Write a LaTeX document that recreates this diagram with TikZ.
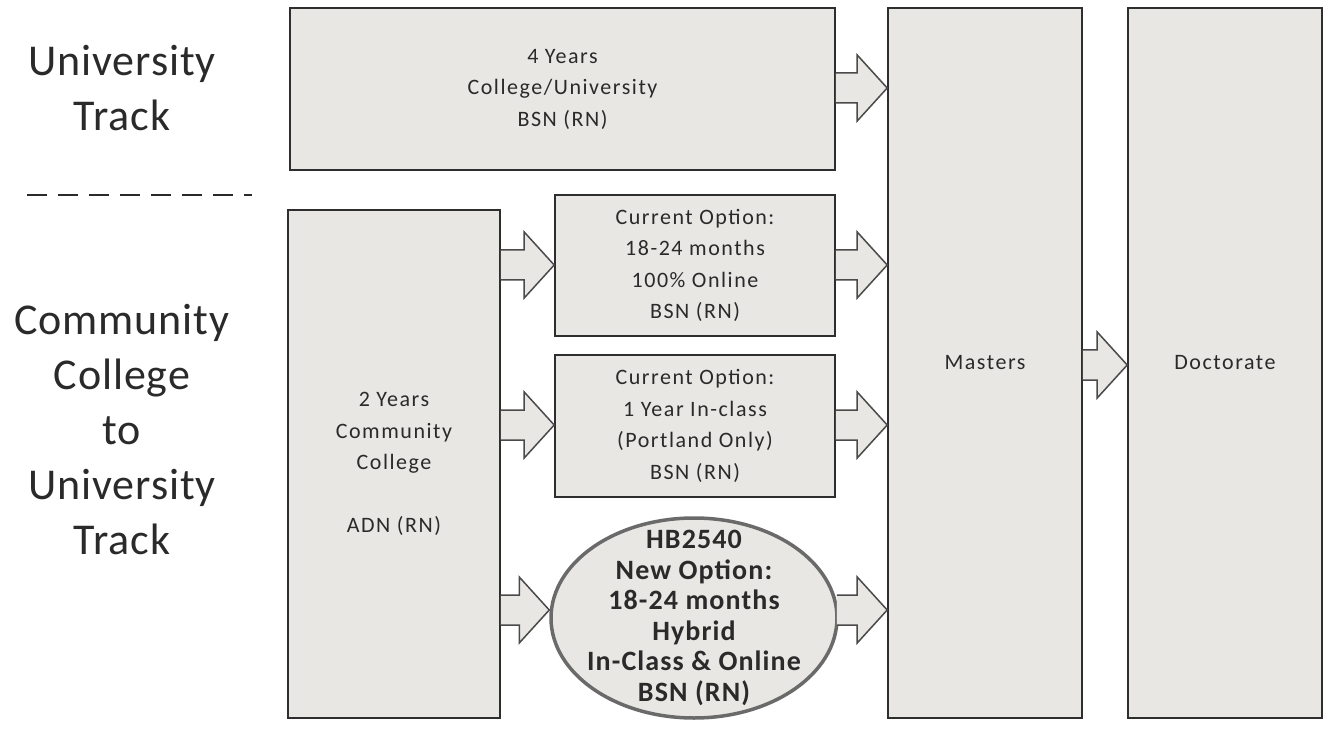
\documentclass[tikz,border=0pt]{standalone}
\usepackage{fontspec}
\setmainfont{Carlito}
\newfontfamily\boxfont[LetterSpace=7]{Carlito}
\newfontfamily\ovfont[LetterSpace=4]{Carlito}
\newfontfamily\sidefont[LetterSpace=2]{Carlito}
\usetikzlibrary{calc,shapes.geometric}
\definecolor{boxfill}{HTML}{E9E7E4}
\definecolor{boxline}{HTML}{2E2E2E}
\definecolor{txt}{HTML}{2A2A2A}
\definecolor{arrline}{HTML}{4A4A4A}
\definecolor{ellline}{HTML}{6A6A6A}
\tikzset{
  box/.style={draw=boxline, line width=1.6pt, fill=boxfill, rectangle, align=center,
    text=txt, font=\boxfont\fontsize{22}{31.5}\selectfont, inner sep=0pt},
  oval/.style={draw=ellline, line width=3.5pt, fill=boxfill, ellipse, inner sep=0pt},
  ovtext/.style={align=center, text=txt, font=\ovfont\fontsize{28}{30.6}\selectfont\bfseries, inner sep=0pt},
  side/.style={align=center, text=txt, font=\sidefont\fontsize{44}{55}\selectfont},
  arrfill/.style={fill=boxfill},
  arrdraw/.style={draw=arrline, line width=1.5pt, line join=miter},
}
\newcommand{\blockarrow}[2]{%
  \fill[arrfill] ($(#1)+(0,15)$) -- ($(#2)+(-30,15)$) -- ($(#2)+(-30,33)$) -- (#2)
    -- ($(#2)+(-30,-33)$) -- ($(#2)+(-30,-15)$) -- ($(#1)+(0,-15)$) -- cycle;
  \draw[arrdraw] ($(#1)+(0,15)$) -- ($(#2)+(-30,15)$) -- ($(#2)+(-30,33)$) -- (#2)
    -- ($(#2)+(-30,-33)$) -- ($(#2)+(-30,-15)$) -- ($(#1)+(0,-15)$);
}
\begin{document}
\begin{tikzpicture}[x=1pt,y=1pt]
\useasboundingbox (0,0) rectangle (1332,729);
\fill[white] (0,0) rectangle (1332,729);

% left labels
\node[side] (ut) at (122,641) {University\\Track};
\node[side] (cct) at (122,299) {Community\\College\\to\\University\\Track};
\coordinate (d1) at (27,534);
\coordinate (d2) at (252,534);
\draw[txt, line width=2.6pt, dash pattern=on 20pt off 11pt] (d1) -- (d2);

% boxes
\node[box, minimum width=545, minimum height=162] (top) at (562.5,640) {4 Years\\College/University\\BSN (RN)};
\node[box, minimum width=194, minimum height=710] (mas) at (985,366) {Masters};
\node[box, minimum width=194, minimum height=710] (doc) at (1225,366) {Doctorate};
\node[box, minimum width=212, minimum height=508] (cc) at (394,265) {2 Years\\Community\\College\\[31.5pt]ADN (RN)};
\node[box, minimum width=280, minimum height=141] (o1) at (695,463.5) {Current Option:\\18-24 months\\100\% Online\\BSN (RN)};
\node[box, minimum width=280, minimum height=142] (o2) at (695,303) {Current Option:\\1 Year In-class\\(Portland Only)\\BSN (RN)};
\node[oval, minimum width=286, minimum height=200] (ov) at (694,111) {};
\node[ovtext] (ovt) at (ov.center) {HB2540\\New Option:\\18-24 months\\Hybrid\\In-Class \& Online\\BSN (RN)};

% arrow anchor points
\coordinate (a1s) at (top.east |- 0,641);
\coordinate (a1t) at (mas.west |- 0,641);
\coordinate (a2s) at (cc.east |- 0,464);
\coordinate (a2t) at (o1.west |- 0,464);
\coordinate (a3s) at (cc.east |- 0,304);
\coordinate (a3t) at (o2.west |- 0,304);
\coordinate (a4s) at (cc.east |- 0,119);
\coordinate (a4t) at (ov.west |- 0,119);
\coordinate (a5s) at (o1.east |- 0,464);
\coordinate (a5t) at (mas.west |- 0,464);
\coordinate (a6s) at (o2.east |- 0,304);
\coordinate (a6t) at (mas.west |- 0,304);
\coordinate (a7s) at ($(ov.east)+(-2,8)$);
\coordinate (a7t) at (mas.west |- 0,119);
\coordinate (a8s) at (mas.east |- 0,364);
\coordinate (a8t) at (doc.west |- 0,364);

\blockarrow{a1s}{a1t}
\blockarrow{a2s}{a2t}
\blockarrow{a3s}{a3t}
\blockarrow{a4s}{a4t}
\blockarrow{a5s}{a5t}
\blockarrow{a6s}{a6t}
\blockarrow{a7s}{a7t}
\blockarrow{a8s}{a8t}
\end{tikzpicture}
\end{document}
